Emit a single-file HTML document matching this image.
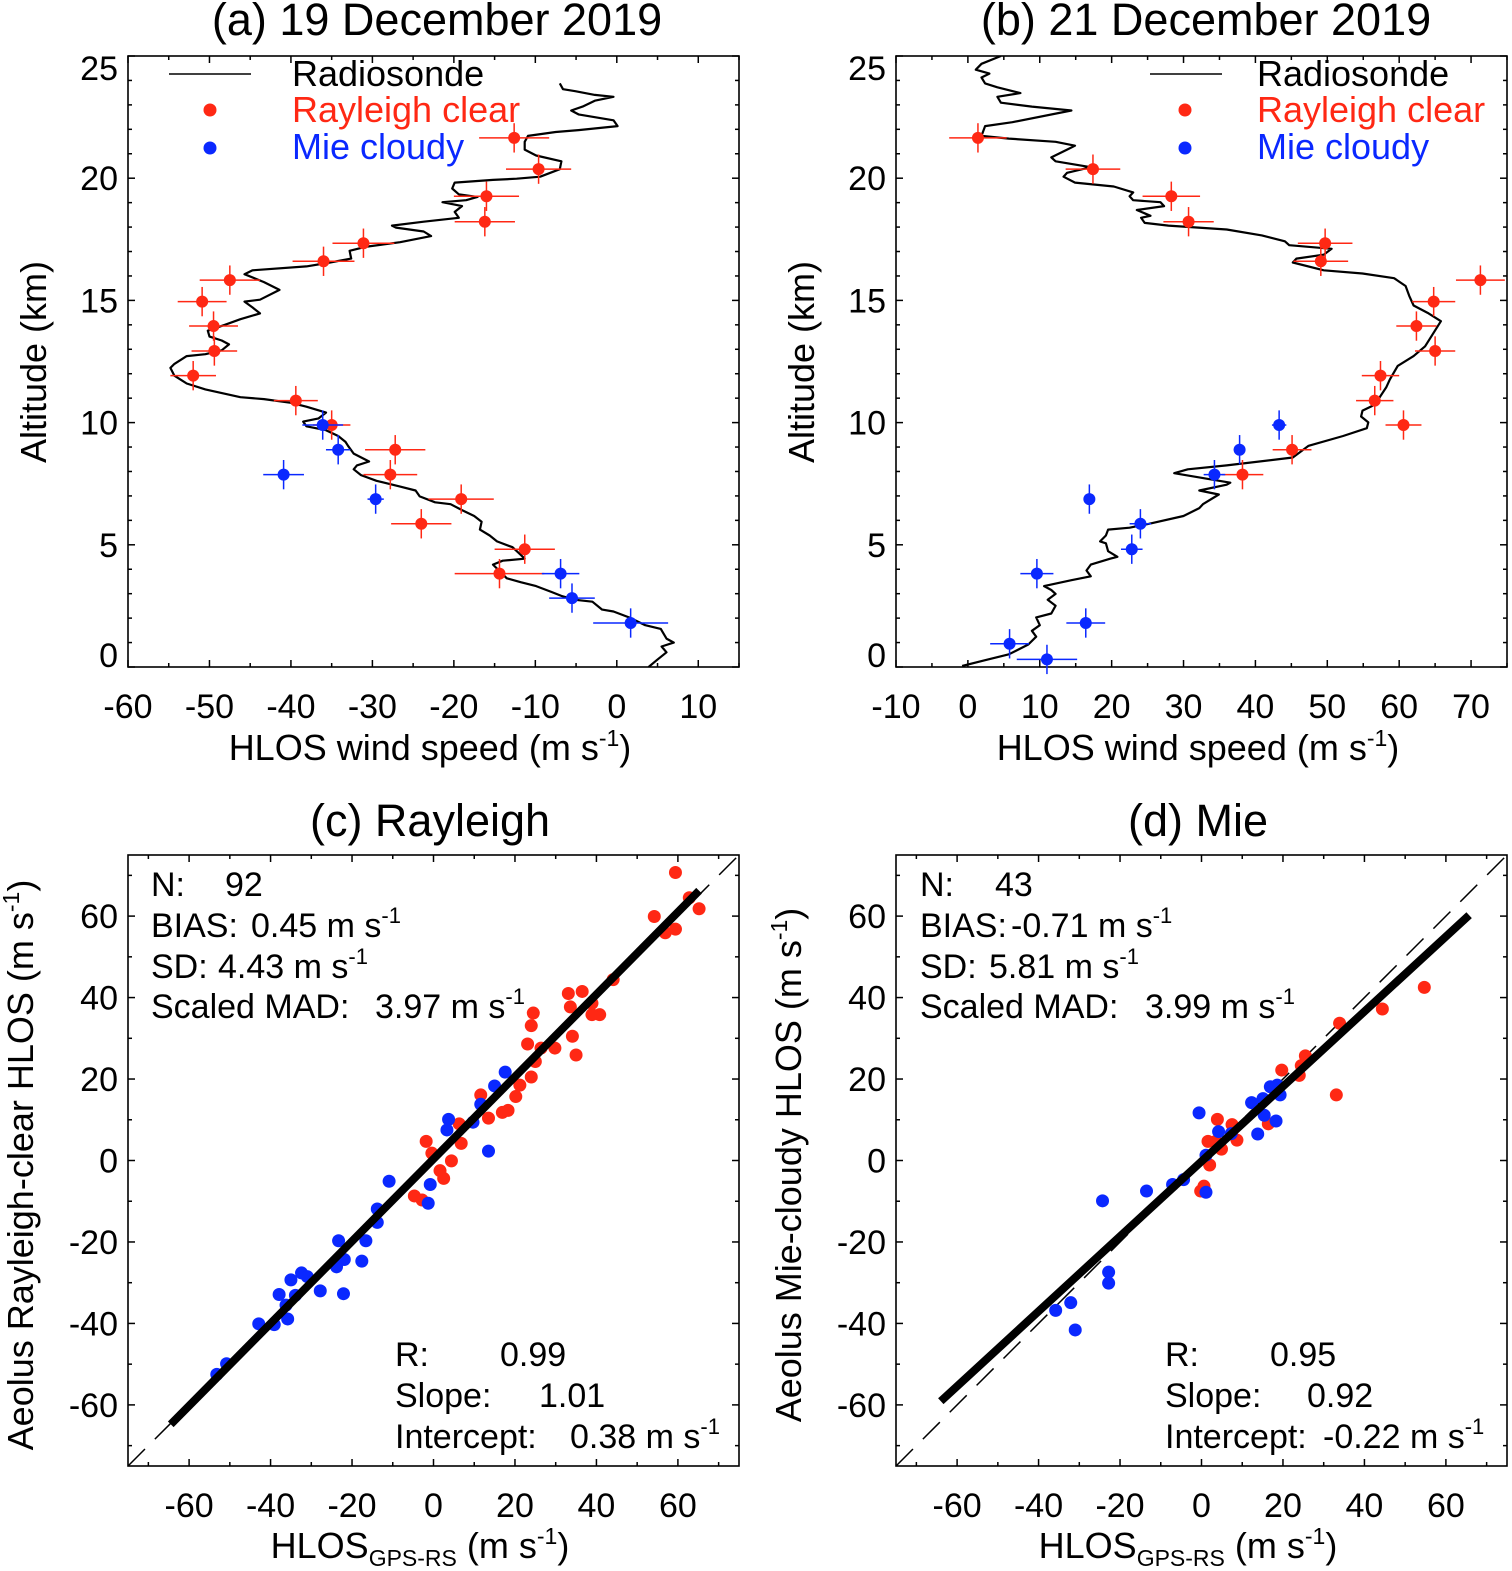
<!DOCTYPE html>
<html><head><meta charset="utf-8"><style>
html,body{margin:0;padding:0;background:#fff;}
svg{display:block;font-family:"Liberation Sans",sans-serif;}
</style></head><body>
<svg id="fig" xmlns="http://www.w3.org/2000/svg" width="1512" height="1571" viewBox="0 0 1512 1571"></svg>
<script>
// ---------- Panel (a) data ----------
const aRSWind=[3.9,4.9,6.1,5.5,7.0,6.1,5.4,3.5,1.5,-0.4,-1.8,-3.0,-5.1,-6.8,-8.0,-9.9,-11.8,-13.5,-15.2,-14.0,-11.3,-11.8,-12.8,-14.7,-15.6,-16.8,-16.6,-17.5,-19.0,-20.4,-22.3,-24.2,-24.7,-26.6,-29.5,-31.4,-32.3,-31.9,-30.4,-32.3,-33.0,-33.3,-34.2,-35.7,-38.1,-38.5,-36.6,-35.7,-38.1,-40.0,-43.3,-46.2,-50.5,-52.8,-54.3,-54.8,-54.3,-52.8,-50.5,-48.5,-47.6,-48.5,-50.0,-50.2,-48.1,-46.2,-43.8,-44.7,-45.7,-43.8,-41.4,-43.3,-45.7,-44.7,-38.1,-35.2,-32.6,-32.8,-30.9,-26.6,-22.8,-23.7,-27.1,-27.6,-23.7,-19.4,-19.9,-19.0,-21.4,-18.5,-17.1,-19.4,-20.2,-19.9,-15.2,-12.3,-9.4,-7.0,-6.8,-9.9,-11.3,-11.3,-10.9,-7.5,-4.7,0.1,-0.4,-4.7,-5.6,-4.2,-2.7,-0.4,-2.7,-5.1,-6.6,-7.0];
const aRSAlt=[0.0,0.28,0.6,0.84,1.0,1.16,1.56,1.71,2.03,2.27,2.35,2.67,2.75,2.91,3.07,3.31,3.47,3.63,4.19,4.35,4.43,4.59,4.9,5.14,5.38,5.62,5.94,6.18,6.42,6.66,6.74,6.98,7.22,7.38,7.62,7.85,8.09,8.25,8.41,8.73,9.05,9.21,9.45,9.69,9.85,10.04,10.17,10.41,10.65,10.81,10.96,11.04,11.36,11.6,11.92,12.24,12.4,12.72,12.8,12.96,13.2,13.36,13.52,13.76,14.0,14.23,14.47,14.71,14.95,15.03,15.43,15.75,16.07,16.23,16.39,16.55,16.71,17.03,17.19,17.38,17.63,17.82,17.98,18.06,18.22,18.38,18.62,18.86,19.02,19.1,19.23,19.34,19.58,19.82,19.93,19.98,20.06,20.37,20.69,20.93,21.17,21.49,21.73,21.89,21.97,22.13,22.37,22.61,22.77,22.93,23.17,23.33,23.41,23.56,23.64,23.88];
const aRayWind=[-12.6,-9.6,-16.0,-16.2,-31.1,-36.0,-47.5,-50.9,-49.5,-49.4,-52.0,-39.4,-35.0,-27.2,-27.8,-19.1,-24.0,-11.3,-14.4];
const aRayAlt=[21.65,20.37,19.26,18.22,17.34,16.6,15.83,14.95,13.95,12.93,11.92,10.9,9.9,8.89,7.87,6.87,5.86,4.82,3.82];
const aRayErr=[4.3,4.0,4.0,3.7,3.8,3.8,3.7,3.0,3.0,2.8,2.8,2.7,2.3,3.7,3.3,4.0,3.7,3.7,5.5];
const aMieWind=[-36.1,-34.2,-40.9,-29.6,-6.9,-5.5,1.7];
const aMieAlt=[9.9,8.89,7.87,6.87,3.82,2.82,1.8];
const aMieErr=[2.5,1.5,2.5,1.0,2.3,2.8,4.6];
// ---------- Panel (b) data ----------
const bRSWind=[-0.8,2.4,5.7,8.4,9.5,8.9,10.0,9.5,11.6,12.2,11.1,12.2,11.6,10.6,14.4,17.1,16.5,17.1,19.8,20.8,19.5,19.2,18.4,19.2,19.5,22.5,25.2,30.0,32.2,32.7,34.9,32.2,36.0,36.5,28.7,30.6,36.0,45.2,47.4,52.2,55.5,55.7,54.7,54.9,56.6,58.2,58.7,59.8,62.0,63.6,65.8,64.1,62.0,61.4,60.9,59.3,54.9,49.5,45.2,45.7,49.5,50.6,44.7,44.1,40.9,36.0,27.9,24.6,24.1,25.4,23.5,27.3,26.8,23.0,22.5,23.0,20.3,14.9,13.3,13.8,17.1,12.2,11.6,13.8,14.9,12.2,5.7,1.9,2.4,6.2,14.4,8.9,4.6,4.1,7.3,4.1,2.4,1.9,3.0,1.1,1.9,4.6];
const bRSAlt=[0.04,0.28,0.52,0.92,1.24,1.48,1.71,2.03,2.19,2.51,2.75,2.99,3.15,3.31,3.55,3.71,3.95,4.19,4.43,4.51,4.74,5.06,5.14,5.38,5.62,5.7,5.86,6.18,6.5,6.66,7.06,7.22,7.46,7.54,7.93,8.09,8.25,8.57,9.05,9.45,9.77,10.01,10.25,10.49,10.73,11.44,11.76,12.32,12.72,13.12,14.15,14.47,14.79,15.19,15.59,15.91,16.1,16.23,16.55,16.71,16.87,17.11,17.26,17.42,17.66,17.9,18.06,18.17,18.38,18.46,18.7,18.86,19.02,19.1,19.26,19.42,19.66,19.82,20.06,20.22,20.45,20.69,20.85,21.17,21.33,21.49,21.62,21.73,22.13,22.29,22.77,22.93,23.09,23.33,23.48,23.72,23.88,24.12,24.28,24.44,24.68,25.0];
const bRayWind=[1.4,17.4,28.3,30.7,49.7,49.1,71.3,64.8,62.4,65.0,57.4,56.6,60.6,45.1,38.2];
const bRayAlt=[21.65,20.37,19.26,18.22,17.34,16.6,15.83,14.95,13.95,12.93,11.92,10.9,9.9,8.89,7.87];
const bRayErr=[4.0,3.8,4.0,3.5,3.8,3.8,3.4,3.0,2.8,2.8,2.6,2.6,2.5,2.7,2.9];
const bMieWind=[43.3,37.8,34.3,16.9,24.0,22.8,9.6,16.4,5.8,11.0];
const bMieAlt=[9.9,8.89,7.87,6.87,5.86,4.82,3.82,1.8,0.95,0.31];
const bMieErr=[1.0,0.8,1.5,0.5,1.5,1.5,2.3,2.7,2.7,4.2];
// ---------- Panel (c) data ----------
const cRedX=[59.4,54.2,56.9,59.4,62.8,65.2,44.1,33.1,36.5,38.9,40.8,38.9,33.6,24.5,24.0,23.1,26.4,29.8,34.1,35.0,25.0,24.0,21.2,20.2,11.6,13.5,16.9,18.3,6.3,6.8,4.4,-0.4,-1.8,1.6,2.5,-4.7,-2.8];
const cRedY=[70.7,59.9,55.9,56.8,64.5,61.8,44.4,41.0,41.5,38.6,35.8,35.8,37.7,36.2,33.1,28.6,27.6,27.6,30.5,25.9,24.3,20.5,18.5,15.7,16.1,10.4,11.8,12.3,9.0,4.2,-0.1,1.8,4.7,-2.5,-4.4,-8.7,-9.7];
const cBlueX=[17.6,15.0,11.6,9.7,3.7,3.3,13.5,-10.9,-0.8,-1.3,-13.8,-13.8,-23.3,-16.6,-17.6,-21.9,-23.8,-22.1,-27.8,-32.4,-31.0,-35.0,-37.9,-33.9,-36.2,-35.8,-39.1,-42.9,-50.8,-53.2];
const cBlueY=[21.7,18.3,13.8,9.4,10.1,7.5,2.3,-5.1,-5.9,-10.5,-11.9,-15.2,-19.7,-19.7,-24.7,-24.3,-26.1,-32.7,-32.0,-27.6,-28.5,-29.3,-32.9,-33.1,-35.5,-38.9,-40.3,-40.1,-49.9,-52.5];
const cFit=[1.01,0.38]; const cFitRange=[-64.5,65.2];
// ---------- Panel (d) data ----------
const dRedX=[54.7,44.4,33.9,33.1,25.5,24.5,19.7,24.0,16.4,3.9,7.5,8.7,1.6,3.5,4.9,2.0,0.6,-0.2];
const dRedY=[42.5,37.2,33.7,16.1,25.7,23.3,22.2,20.9,9.0,10.1,8.8,5.0,4.7,4.7,2.8,-1.1,-6.3,-7.5];
const dBlueX=[16.9,18.6,19.3,12.3,15.1,15.4,18.3,13.8,-0.6,4.2,7.3,1.1,-4.4,-7.1,-13.5,-24.3,1.1,-22.8,-22.8,-32.1,-35.8,-31.0];
const dBlueY=[18.1,18.5,16.1,14.2,15.2,11.1,9.7,6.5,11.7,7.1,6.6,1.3,-4.7,-5.9,-7.5,-9.9,-7.8,-27.4,-30.1,-34.9,-36.8,-41.6];
const dFit=[0.92,-0.22]; const dFitRange=[-64,65.7];
// tick values
const aXTicks=[-60,-50,-40,-30,-20,-10,0,10];
const bXTicks=[-10,0,10,20,30,40,50,60,70];
const abYTicks=[0,5,10,15,20,25];
const cdTicks=[-60,-40,-20,0,20,40,60];

const RED="#ff2814", BLUE="#0a28ff";
const NS="http://www.w3.org/2000/svg";
const svg=document.getElementById('fig');
function mk(tag,attrs,parent){const e=document.createElementNS(NS,tag);for(const k in attrs)e.setAttribute(k,attrs[k]);(parent||svg).appendChild(e);return e;}
function scale(d0,d1,p0,p1){return v=>p0+(v-d0)/(d1-d0)*(p1-p0);}

function panel(P){
  const g=mk('g',{});
  
  
  P.g=g;
  P.sx=scale(P.xmin,P.xmax,P.x0,P.x0+P.w);
  P.sy=scale(P.ymin,P.ymax,P.y0+P.h,P.y0);
  const cp=mk('clipPath',{id:P.name+'-clip'},g);
  mk('rect',{x:P.x0,y:P.y0,width:P.w,height:P.h},cp);
  const tg=mk('g',{stroke:'#000','stroke-width':1.5},g);
  
  
  for(let v=Math.ceil(P.xmin/P.xminor-1e-9)*P.xminor;v<=P.xmax+1e-9;v+=P.xminor){
    const major=Math.abs(Math.round(v/P.xmajor)*P.xmajor-v)<1e-6;const L=major?7:4;const x=P.sx(v);
    mk('line',{x1:x,x2:x,y1:P.y0+P.h,y2:P.y0+P.h-L},tg);
    mk('line',{x1:x,x2:x,y1:P.y0,y2:P.y0+L},tg);
  }
  for(let v=Math.ceil(P.ymin/P.yminor-1e-9)*P.yminor;v<=P.ymax+1e-9;v+=P.yminor){
    const major=Math.abs(Math.round(v/P.ymajor)*P.ymajor-v)<1e-6;const L=major?7:4;const y=P.sy(v);
    mk('line',{x1:P.x0,x2:P.x0+L,y1:y,y2:y},tg);
    mk('line',{x1:P.x0+P.w,x2:P.x0+P.w-L,y1:y,y2:y},tg);
  }
  const frame=mk('rect',{x:P.x0,y:P.y0,width:P.w,height:P.h,fill:'none',stroke:'#000','stroke-width':1.6},g);
  
  
  P.xTicks.forEach(v=>{
    const t=mk('text',{x:P.sx(v),y:P.y0+P.h+51,'font-size':34,'text-anchor':'middle'},g);
    
    
    t.textContent=v;
  });
  P.yTicks.forEach(v=>{
    let y=P.sy(v);y=Math.max(P.y0+12,Math.min(P.y0+P.h-12,y));
    const t=mk('text',{x:P.x0-10,y:y+12,'font-size':34,'text-anchor':'end'},g);
    
    
    t.textContent=v;
  });
  return g;
}
function dot(P,x,y,color,r,name){
  const c=mk('circle',{cx:P.sx(x),cy:P.sy(y),r:r,fill:color},P.g);
  
  
}
function errDot(P,xs,ys,es,color,name){
  xs.forEach((x,i)=>{
    const eg=mk('g',{stroke:color,'stroke-width':1.5},P.g);
    
    
    mk('line',{x1:P.sx(x-es[i]),x2:P.sx(x+es[i]),y1:P.sy(ys[i]),y2:P.sy(ys[i])},eg);
    mk('line',{x1:P.sx(x),x2:P.sx(x),y1:P.sy(ys[i]-0.6),y2:P.sy(ys[i]+0.6)},eg);
    dot(P,x,ys[i],color,6,name);
  });
}
function profile(P,xs,ys){
  const d=xs.map((x,i)=>(i?'L':'M')+P.sx(x).toFixed(1)+','+P.sy(ys[i]).toFixed(1)).join('');
  const p=mk('path',{d:d,fill:'none',stroke:'#000','stroke-width':2.2,'stroke-linejoin':'round','clip-path':'url(#'+P.name+'-clip)'},P.g);
  
  
}
function legend(P,lx0,lx1,dx,tx){
  const lg=mk('g',{},P.g);
  
  
  mk('line',{x1:lx0,x2:lx1,y1:P.y0+18,y2:P.y0+18,stroke:'#000','stroke-width':1.5},lg);
  mk('circle',{cx:dx,cy:P.y0+54,r:6.5,fill:RED},lg);
  mk('circle',{cx:dx,cy:P.y0+92,r:6.5,fill:BLUE},lg);
  const t1=mk('text',{x:tx,y:P.y0+30,'font-size':36,fill:'#000'},lg);t1.textContent='Radiosonde';
  
  
  const t2=mk('text',{x:tx,y:P.y0+66,'font-size':36,fill:RED},lg);t2.textContent='Rayleigh clear';
  
  
  const t3=mk('text',{x:tx,y:P.y0+103,'font-size':36,fill:BLUE},lg);t3.textContent='Mie cloudy';
  
  
}
function title(x,y,s,name){
  const t=mk('text',{x:x,y:y,'font-size':45,'text-anchor':'middle'});
  
  
  t.textContent=s;
}
function hlosLabel(cx,y){
  const t=mk('text',{x:cx,y:y,'font-size':36,'text-anchor':'middle'});
  
  
  t.innerHTML='HLOS wind speed (m s<tspan dy="-14" font-size="23">-1</tspan><tspan dy="14">)</tspan>';
}
function yLabel(cx,cy,html,name){
  const t=mk('text',{x:0,y:0,'font-size':36,'text-anchor':'middle',transform:'translate('+cx+','+cy+') rotate(-90)'});
  
  
  t.innerHTML=html;
}
function gpsLabel(cx,y){
  const t=mk('text',{x:cx,y:y,'font-size':36,'text-anchor':'middle'});
  
  
  t.innerHTML='HLOS<tspan dy="8" font-size="23">GPS-RS</tspan><tspan dy="-8"> (m s</tspan><tspan dy="-14" font-size="23">-1</tspan><tspan dy="14">)</tspan>';
}
function stat(P,x,y,label,valx,val,unit,name){
  const t=mk('text',{x:x,y:y,'font-size':34},P.g);
  
  
  t.innerHTML=label+'<tspan x="'+valx+'">'+val+(unit?' m s<tspan dy="-14" font-size="22">-1</tspan>':'')+'</tspan>';
}

// ---- Panel A ----
const A={name:'panel-a',x0:128,y0:56,w:611,h:611,xmin:-60,xmax:15,ymin:0,ymax:25,xminor:5,xmajor:10,yminor:1,ymajor:5,xTicks:aXTicks,yTicks:abYTicks};
panel(A);
profile(A,aRSWind,aRSAlt);
errDot(A,aRayWind,aRayAlt,aRayErr,RED,'rayleigh-point');
errDot(A,aMieWind,aMieAlt,aMieErr,BLUE,'mie-point');
legend(A,169,251,210,292);
title(437,35,'(a) 19 December 2019','title-a');
hlosLabel(430,760);
yLabel(46,362,'Altitude (km)','y-axis-title-a');

// ---- Panel B ----
const B={name:'panel-b',x0:896,y0:56,w:611,h:611,xmin:-10,xmax:75,ymin:0,ymax:25,xminor:5,xmajor:10,yminor:1,ymajor:5,xTicks:bXTicks,yTicks:abYTicks};
panel(B);
profile(B,bRSWind,bRSAlt);
errDot(B,bRayWind,bRayAlt,bRayErr,RED,'rayleigh-point');
errDot(B,bMieWind,bMieAlt,bMieErr,BLUE,'mie-point');
legend(B,1150,1222,1185,1257);
title(1206,35,'(b) 21 December 2019','title-b');
hlosLabel(1198,760);
yLabel(814,362,'Altitude (km)','y-axis-title-b');

// ---- Scatter panels ----
function scatterPanel(P,rx,ry,bx,by,fit,fr){
  panel(P);
  const one=mk('line',{x1:P.sx(-75),y1:P.sy(-75),x2:P.sx(75),y2:P.sy(75),stroke:'#000','stroke-width':1.5,'stroke-dasharray':'24 14','clip-path':'url(#'+P.name+'-clip)'},P.g);
  
  
  rx.forEach((x,i)=>dot(P,x,ry[i],RED,6.5,'rayleigh-clear-point'));
  bx.forEach((x,i)=>dot(P,x,by[i],BLUE,6.5,'mie-cloudy-point'));
  const fl=mk('line',{x1:P.sx(fr[0]),y1:P.sy(fit[0]*fr[0]+fit[1]),x2:P.sx(fr[1]),y2:P.sy(fit[0]*fr[1]+fit[1]),stroke:'#000','stroke-width':8},P.g);
  
  
}
const C={name:'panel-c',x0:128,y0:855,w:611,h:611,xmin:-75,xmax:75,ymin:-75,ymax:75,xminor:10,xmajor:20,yminor:10,ymajor:20,xTicks:cdTicks,yTicks:cdTicks};
scatterPanel(C,cRedX,cRedY,cBlueX,cBlueY,cFit,cFitRange);
stat(C,151,896,'N:',225,'92',false,'stat-n');
stat(C,151,937,'BIAS:',251,'0.45',true,'stat-bias');
stat(C,151,978,'SD:',218,'4.43',true,'stat-sd');
stat(C,151,1018,'Scaled MAD:',375,'3.97',true,'stat-mad');
stat(C,395,1366,'R:',500,'0.99',false,'stat-r');
stat(C,395,1407,'Slope:',539,'1.01',false,'stat-slope');
stat(C,395,1448,'Intercept:',570,'0.38',true,'stat-intercept');
title(430,836,'(c) Rayleigh','title-c');
gpsLabel(420,1558);
yLabel(33,1165,'Aeolus Rayleigh-clear HLOS (m s<tspan dy="-14" font-size="23">-1</tspan><tspan dy="14">)</tspan>','y-axis-title-c');

const D={name:'panel-d',x0:896,y0:855,w:611,h:611,xmin:-75,xmax:75,ymin:-75,ymax:75,xminor:10,xmajor:20,yminor:10,ymajor:20,xTicks:cdTicks,yTicks:cdTicks};
scatterPanel(D,dRedX,dRedY,dBlueX,dBlueY,dFit,dFitRange);
stat(D,920,896,'N:',995,'43',false,'stat-n');
stat(D,920,937,'BIAS:',1011,'-0.71',true,'stat-bias');
stat(D,920,978,'SD:',989,'5.81',true,'stat-sd');
stat(D,920,1018,'Scaled MAD:',1145,'3.99',true,'stat-mad');
stat(D,1165,1366,'R:',1270,'0.95',false,'stat-r');
stat(D,1165,1407,'Slope:',1307,'0.92',false,'stat-slope');
stat(D,1165,1448,'Intercept:',1323,'-0.22',true,'stat-intercept');
title(1198,836,'(d) Mie','title-d');
gpsLabel(1188,1558);
yLabel(801,1165,'Aeolus Mie-cloudy HLOS (m s<tspan dy="-14" font-size="23">-1</tspan><tspan dy="14">)</tspan>','y-axis-title-d');
</script>
</body></html>
